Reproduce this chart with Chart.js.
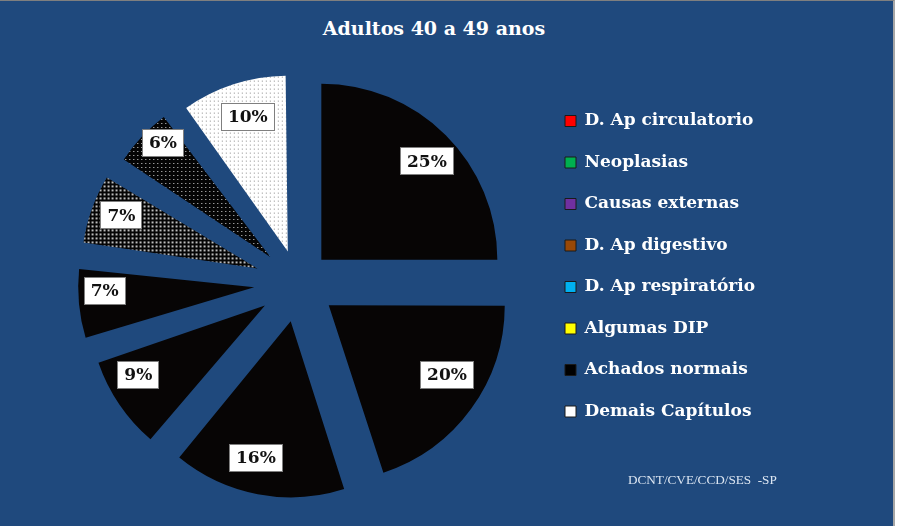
<!DOCTYPE html>
<html><head><meta charset="utf-8">
<script src="https://cdn.jsdelivr.net/npm/chart.js@4.4.1/dist/chart.umd.min.js"></script>
<style>
html,body{margin:0;padding:0;background:#fff;}
#frame{position:absolute;left:0;top:0;width:893px;height:525px;background:#1F497D;border-top:1px solid #7f7f7f;border-right:2px solid #a6a6a6;}
#title{position:absolute;left:0;top:14px;width:868px;text-align:center;color:#fff;font:bold 19px "DejaVu Serif";line-height:28px;}
#source{position:absolute;left:628px;top:472px;color:#dce6f2;font:13.2px "Liberation Serif";white-space:pre;}
#c{position:absolute;left:0;top:0;}
</style></head><body>
<div id="frame"></div>
<div id="title">Adultos 40 a 49 anos</div>
<canvas id="c" width="904" height="526"></canvas>
<div id="source">DCNT/CVE/CCD/SES  -SP</div>
<script>
const categories = ['D. Ap circulatorio','Neoplasias','Causas externas','D. Ap digestivo','D. Ap respiratório','Algumas DIP','Achados normais','Demais Capítulos'];
const shares = [25, 20, 16, 9, 7, 7, 6, 10];
const legendColors = ['#FF0000','#00B050','#7030A0','#984807','#00B0F0','#FFFF00','#000000','#FFFFFF'];

const canvas = document.getElementById('c');
const ctx = canvas.getContext('2d');

function pattern(bg, fg, size, cells) {
  const c = document.createElement('canvas'); c.width = c.height = size;
  const g = c.getContext('2d'); g.fillStyle = bg; g.fillRect(0, 0, size, size);
  g.fillStyle = fg; cells.forEach(([x, y, w, h]) => g.fillRect(x, y, w, h));
  return ctx.createPattern(c, 'repeat');
}
const dark = '#070505';
const sliceFills = [
  dark, dark, dark, dark, dark,
  pattern('#050505', '#bcbcbc', 4, [[0,0,2,2]]),
  pattern('#050505', '#d8d8d8', 4, [[1,1,1,1]]),
  pattern('#ffffff', '#8a8a8a', 4, [[0,0,1,1]])
];

// style: explosion distance of each slice in px (Chart.js moves arcs by offset/4)
const explodePx = [33, 38, 39, 40, 44, 43, 38, 33];
// style: data-label placement (angle nudge in degrees, fraction of radius)
const labelNudgeDeg = [2, -5.5, 3.5, 5.5, 4, 1.5, 3.5, 1.5];
const labelFrac = [0.82, 0.78, 0.80, 0.82, 0.85, 0.83, 0.89, 0.80];
const RADIUS = 176;

const FS = 17, LP = 24.5, BOX = 11;
const mctx = document.createElement('canvas').getContext('2d');
mctx.font = 'bold ' + FS + 'px "DejaVu Serif"';
const T = Math.max(...categories.map(t => mctx.measureText(t).width));
const legendW = LP + BOX + FS / 2 + T + 10;
const legendLeft = 565 - LP;
const padLeft = 2 * 298 - legendLeft;
const padRight = 904 - legendLeft - legendW;

// keep every exploded slice at the same outer radius
const keepRadius = {
  id: 'keepRadius',
  afterDatasetUpdate(chart, args) {
    const meta = chart.getDatasetMeta(args.index);
    const R = meta.controller.outerRadius;
    meta.data.forEach(arc => {
      const fix = 1 - Math.sin(Math.min(Math.PI, arc.circumference));
      arc.outerRadius = R - ((arc.options.offset || 0) / 4) * fix;
    });
  }
};

const sliceLabels = {
  id: 'sliceLabels',
  afterDatasetsDraw(chart) {
    const c = chart.ctx;
    const meta = chart.getDatasetMeta(0);
    const R = meta.controller.outerRadius;
    c.save();
    c.font = 'bold ' + FS + 'px "DejaVu Serif"';
    c.textAlign = 'center'; c.textBaseline = 'middle';
    meta.data.forEach((arc, i) => {
      const p = arc.getProps(['x', 'y', 'startAngle', 'endAngle'], true);
      const off = (arc.options.offset || 0) / 4;
      const mid = (p.startAngle + p.endAngle) / 2;
      const ox = p.x + Math.cos(mid) * off, oy = p.y + Math.sin(mid) * off;
      const a = mid + labelNudgeDeg[i] * Math.PI / 180;
      const d = labelFrac[i] * R;
      const cx = ox + Math.cos(a) * d, cy = oy + Math.sin(a) * d;
      const txt = shares[i] + '%';
      const w = Math.round(c.measureText(txt).width + 14), h = 28;
      const x0 = Math.round(cx - w / 2), y0 = Math.round(cy - h / 2);
      c.fillStyle = '#ffffff'; c.fillRect(x0, y0, w, h);
      c.strokeStyle = '#7f7f7f'; c.lineWidth = 1; c.strokeRect(x0 + 0.5, y0 + 0.5, w - 1, h - 1);
      c.fillStyle = '#111111'; c.fillText(txt, cx, cy + 1);
    });
    c.restore();
  }
};

new Chart(ctx, {
  type: 'pie',
  data: {
    labels: categories,
    datasets: [{
      data: shares,
      backgroundColor: sliceFills,
      borderWidth: 0,
      offset: explodePx.map(v => v * 4),
      hoverOffset: 0,
      radius: RADIUS
    }]
  },
  options: {
    responsive: false,
    animation: false,
    events: [],
    layout: { padding: { left: padLeft, right: padRight, top: 88, bottom: 48 } },
    plugins: {
      title: { display: false },
      tooltip: { enabled: false },
      legend: {
        position: 'right',
        align: 'start',
        labels: {
          color: '#ffffff',
          font: { family: 'DejaVu Serif', weight: 'bold', size: FS },
          boxWidth: BOX, boxHeight: BOX, padding: LP,
          generateLabels: () => categories.map((t, i) => ({
            text: t, fillStyle: legendColors[i], strokeStyle: '#1a1a1a', lineWidth: 1,
            hidden: false, index: i, fontColor: '#ffffff'
          }))
        }
      }
    }
  },
  plugins: [keepRadius, sliceLabels]
});
</script>
</body></html>
